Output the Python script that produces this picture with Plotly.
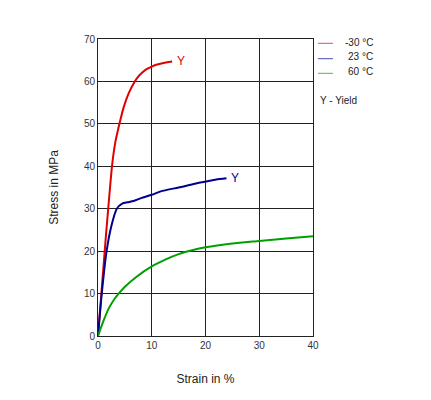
import plotly.graph_objects as go

strain_m30 = [0, 0.5, 1, 1.5, 2, 2.6, 3.2, 3.8, 4.8, 5.7, 6.85, 7.6, 8.4, 9.2, 10, 11, 12, 13.8]
stress_m30 = [0, 8, 16, 24, 31.5, 40, 45.5, 49, 54, 57.2, 60, 61.3, 62.3, 63.0, 63.5, 64.0, 64.3, 64.7]

strain_23 = [0, 0.7, 1.6, 2.5, 3.5, 4.5, 5.5, 6.6, 8, 10, 12, 15, 18, 20, 22, 23.9]
stress_23 = [0, 10, 20, 26, 30, 31.2, 31.5, 31.8, 32.5, 33.3, 34.2, 35.0, 35.9, 36.4, 36.9, 37.2]

strain_60 = [0, 1, 2, 3, 4, 5, 7, 10, 12.5, 15, 17.5, 20, 25, 30, 35, 40]
stress_60 = [0, 3.5, 6.5, 8.6, 10.2, 11.6, 13.8, 16.4, 18, 19.3, 20.2, 20.9, 21.8, 22.4, 23.0, 23.5]

series = [
    ("-30 °C", strain_m30, stress_m30, "#e00000"),
    ("23 °C", strain_23, stress_23, "#000090"),
    ("60 °C", strain_60, stress_60, "#00a000"),
]
yield_label = "Y"
legend_note = "Y - Yield"

FONT = "Liberation Sans, Arial, sans-serif"

fig = go.Figure()
for name, x, y, c in series:
    fig.add_trace(go.Scatter(x=x, y=y, mode="lines", name=name, showlegend=False,
                             line=dict(color=c, width=2, shape="spline", smoothing=0.6)))

for name, x, y, c in series[:2]:
    fig.add_annotation(x=x[-1], y=y[-1], text=yield_label, showarrow=False,
                       xanchor="left", xshift=3, yshift=0,
                       font=dict(color=c, size=12, family=FONT))

# manual legend (outside plot, right)
leg_line_y = [0.9855, 0.9337, 0.8845]
leg_text_y = [0.9875, 0.940, 0.890]
for (name, x, y, c), ly, ty in zip(series, leg_line_y, leg_text_y):
    fig.add_shape(type="line", xref="paper", yref="paper", x0=1.023, x1=1.093, y0=ly, y1=ly,
                  line=dict(color=c, width=1), opacity=0.7)
    fig.add_annotation(xref="paper", yref="paper", x=1.29, y=ty, text=name, showarrow=False,
                       xanchor="right", yanchor="middle",
                       font=dict(size=10, color="#222", family=FONT))

fig.add_annotation(xref="paper", yref="paper", x=1.021, y=0.7946, text=legend_note,
                   showarrow=False, xanchor="left", yanchor="middle",
                   font=dict(size=10, color="#222", family=FONT))

axis_common = dict(showgrid=True, gridcolor="#222", gridwidth=1,
                   showline=True, linecolor="#222", linewidth=1, mirror=True,
                   zeroline=False, ticks="", tickfont=dict(size=10, color="#333", family=FONT))

fig.update_layout(
    width=431, height=400,
    margin=dict(l=90, r=126, t=31, b=72),
    paper_bgcolor="white", plot_bgcolor="white",
    font=dict(family=FONT, color="#222"),
    showlegend=False,
    xaxis=dict(range=[0, 40], dtick=10, title=dict(text="Strain in %", font=dict(size=12), standoff=24),
               **axis_common),
    yaxis=dict(range=[0, 70], dtick=10, title=dict(text="Stress in MPa", font=dict(size=12), standoff=22),
               **axis_common),
)

fig.write_html("out.html")
